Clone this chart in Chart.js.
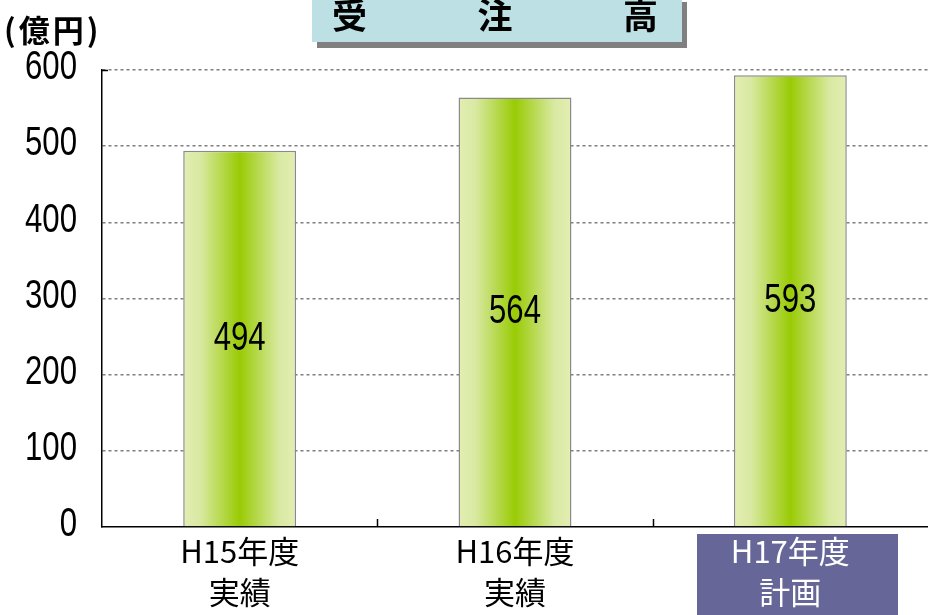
<!DOCTYPE html>
<html>
<head>
<meta charset="utf-8">
<script src="https://cdn.jsdelivr.net/npm/chart.js@4.4.1/dist/chart.umd.min.js"></script>
<style>
  body { margin: 0; background: #fff; }
  #wrap { position: relative; width: 928px; height: 615px; }
  #title {
    position: absolute; left: 312px; top: -4px; width: 370px; height: 46px;
    background: #bce0e4; box-shadow: 5px 6px 0 #808080;
    display: flex; justify-content: space-between; align-items: flex-start;
    padding: 0 24px 0 20px; box-sizing: border-box;
    font: bold 35px/36px 'Noto Sans CJK JP', sans-serif; color: #000;
  }
  #unit {
    position: absolute; left: 4px; top: 11px; letter-spacing: 3px;
    font: bold 31px/36px 'Noto Sans CJK JP', sans-serif; color: #000;
  }
</style>
</head>
<body>
<div id="wrap">
  <canvas id="c" width="928" height="615"></canvas>
  <div id="title"><span>受</span><span>注</span><span>高</span></div>
  <div id="unit">(億円)</div>
</div>
<script>
const categories = [['H15年度','実績'], ['H16年度','実績'], ['H17年度','計画']];
const orders = [494, 564, 593];
const yTicks = [0, 100, 200, 300, 400, 500, 600];
const highlightIndex = 2;

// narrow digits like the original (no narrow font installed, so squeeze)
const numFont = "41px 'Liberation Sans', Arial, sans-serif";
const squeeze = 0.76;

function narrowText(ctx, txt, x, y, align) {
  ctx.save();
  ctx.translate(x, y);
  ctx.scale(squeeze, 1);
  ctx.font = numFont;
  ctx.fillStyle = '#000';
  ctx.textAlign = align;
  ctx.textBaseline = 'middle';
  ctx.fillText(txt, 0, 0);
  ctx.restore();
}

function barGradient(c) {
  const chart = c.chart;
  const xs = chart.scales && chart.scales.x;
  if (!xs || !chart.chartArea) return '#bcdc50';
  const cx = xs.getPixelForValue(c.dataIndex);
  const w = xs.width / categories.length * 0.41;
  const g = chart.ctx.createLinearGradient(cx - w/2, 0, cx + w/2, 0);
  g.addColorStop(0, '#e2eeb2');
  g.addColorStop(0.15, '#d9e9a2');
  g.addColorStop(0.5, '#99cb05');
  g.addColorStop(0.85, '#d9e9a2');
  g.addColorStop(1, '#e2eeb2');
  return g;
}

const decor = {
  id: 'decor',
  beforeDraw(chart) {
    // purple box behind the plan label
    const xs = chart.scales.x, ctx = chart.ctx;
    const cx = xs.getPixelForValue(highlightIndex);
    ctx.save();
    ctx.fillStyle = '#666699';
    ctx.fillRect(Math.round(cx - 93), chart.chartArea.bottom + 7, 201, 88);
    ctx.restore();
  },
  afterDatasetsDraw(chart) {
    const meta = chart.getDatasetMeta(0);
    meta.data.forEach((el, i) => {
      narrowText(chart.ctx, String(orders[i]), el.x, (el.y + el.base) / 2, 'center');
    });
  },
  afterDraw(chart) {
    const xs = chart.scales.x, ys = chart.scales.y, ctx = chart.ctx, b = chart.chartArea.bottom;
    // y tick labels
    ys.ticks.forEach(t => {
      narrowText(ctx, String(t.value), 77, ys.getPixelForValue(t.value) - 2, 'right');
    });
    // short inner ticks at category boundaries
    const step = xs.width / categories.length;
    ctx.save();
    ctx.strokeStyle = '#000';
    ctx.lineWidth = 1.5;
    for (let i = 1; i < categories.length; i++) {
      const x = Math.round(xs.left + step * i) + 0.5;
      ctx.beginPath(); ctx.moveTo(x, b - 8); ctx.lineTo(x, b); ctx.stroke();
    }
    const l = Math.round(chart.chartArea.left), t = Math.round(chart.chartArea.top) + 0.5;
    ctx.beginPath(); ctx.moveTo(l, t); ctx.lineTo(l + 6, t); ctx.stroke();
    ctx.restore();
  }
};

new Chart(document.getElementById('c'), {
  type: 'bar',
  data: {
    labels: categories,
    datasets: [{
      data: orders,
      backgroundColor: barGradient,
      borderColor: '#8a8a8a',
      borderWidth: 1.5,
      barPercentage: 0.41,
      categoryPercentage: 1
    }]
  },
  options: {
    responsive: false,
    animation: false,
    layout: { padding: { top: 70, left: 0, right: 0, bottom: 0 } },
    plugins: { legend: { display: false }, tooltip: { enabled: false } },
    scales: {
      x: {
        grid: { display: false },
        border: { display: true, color: '#000', width: 1.5 },
        ticks: {
          padding: -5,
          color: c => c.index === highlightIndex ? '#fff' : '#000',
          font: { family: "'Noto Sans CJK JP', sans-serif", size: 31, lineHeight: 1.34 }
        },
        afterFit: s => { s.height = 88; }
      },
      y: {
        min: 0, max: 600,
        afterBuildTicks: s => { s.ticks = yTicks.map(v => ({ value: v })); },
        grid: {
          drawTicks: false,
          color: c => c.tick && c.tick.value === 0 ? 'rgba(0,0,0,0)' : '#7f7f7f',
          lineWidth: 1.5
        },
        border: { display: true, color: '#000', width: 1.5, dash: [3, 3] },
        ticks: { display: false },
        afterFit: s => { s.width = 102; }
      }
    }
  },
  plugins: [decor]
});
</script>
</body>
</html>
